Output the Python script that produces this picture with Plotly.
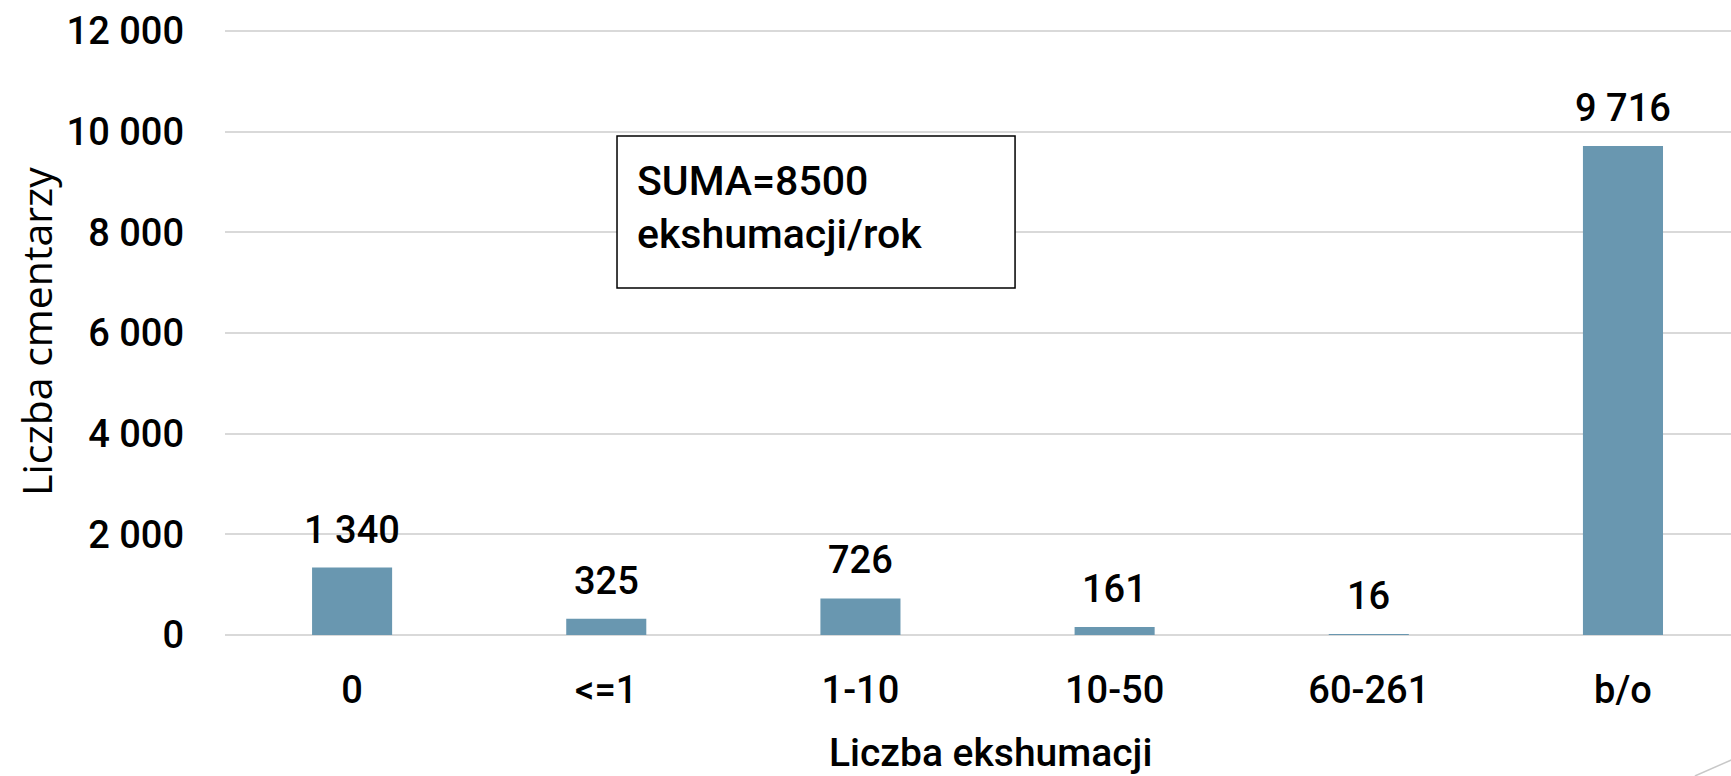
import plotly.graph_objects as go

# Cemeteries grouped by number of exhumations per year
categories = ["0", "<=1", "1-10", "10-50", "60-261", "b/o"]
cemeteries = [1340, 325, 726, 161, 16, 9716]
y_ticks = [0, 2000, 4000, 6000, 8000, 10000, 12000]

FONT = "Roboto"
BAR_COLOR = "#6997b0"
GRID_COLOR = "#d9d9d9"
TXT = dict(family=FONT, size=38, color="#000000", weight=500)

fig = go.Figure()
fig.add_trace(go.Bar(
    x=categories,
    y=cemeteries,
    marker=dict(color=BAR_COLOR, line=dict(width=0)),
    width=0.315,
    hoverinfo="x+y",
))

# Value labels above each bar
for cat, val in zip(categories, cemeteries):
    fig.add_annotation(
        x=cat, y=val, xref="x", yref="y",
        text=f"{val:,}".replace(",", " "),
        showarrow=False, yanchor="bottom", yshift=14,
        font=TXT,
    )

# Summary box
fig.add_shape(
    type="rect", xref="paper", yref="paper",
    x0=0.2603, x1=0.5246, y0=0.5606, y1=0.8061,
    line=dict(color="#000000", width=1.5), fillcolor="#ffffff", layer="above",
)
fig.add_annotation(
    xref="paper", yref="paper", x=0.2722, y=0.6914,
    xanchor="left", yanchor="middle", align="left",
    text="SUMA=8500<br>ekshumacji/rok", showarrow=False,
    font=dict(family=FONT, size=41, color="#000000", weight=500),
)

# Axis titles
fig.add_annotation(
    xref="paper", yref="paper", x=0.5085, y=-0.19,
    xanchor="center", yanchor="middle",
    text="Liczba ekshumacji", showarrow=False,
    font=dict(family=FONT, size=39, color="#000000", weight=500),
)
fig.add_annotation(
    xref="paper", yref="paper", x=-0.126, y=0.49,
    xanchor="center", yanchor="middle", textangle=-90,
    text="Liczba cmentarzy", showarrow=False,
    font=dict(family="Open Sans", size=41, color="#000000", weight=500),
)

# Thin decorative corner line
fig.add_shape(
    type="line", xref="paper", yref="paper",
    x0=0.976, y0=-0.2278, x1=1.03, y1=-0.17,
    line=dict(color="#c8c8c8", width=1.5),
)

fig.update_layout(
    width=1731, height=776,
    margin=dict(l=225, r=0, t=16, b=141),
    paper_bgcolor="#ffffff", plot_bgcolor="#ffffff",
    showlegend=False,
    separators=", ",
    font=TXT,
    xaxis=dict(
        range=[-0.5, 5.425],
        showgrid=False, showline=False, zeroline=False,
        ticks="", ticklabelstandoff=29,
        tickfont=TXT,
    ),
    yaxis=dict(
        range=[0, 12300],
        tickvals=y_ticks,
        ticktext=[f"{v:,}".replace(",", " ") for v in y_ticks],
        showgrid=True, gridcolor=GRID_COLOR, gridwidth=1.5,
        zeroline=True, zerolinecolor=GRID_COLOR, zerolinewidth=1.5,
        showline=False, ticks="", ticklabelstandoff=40,
        tickfont=TXT,
    ),
)

fig.write_html("out.html")
